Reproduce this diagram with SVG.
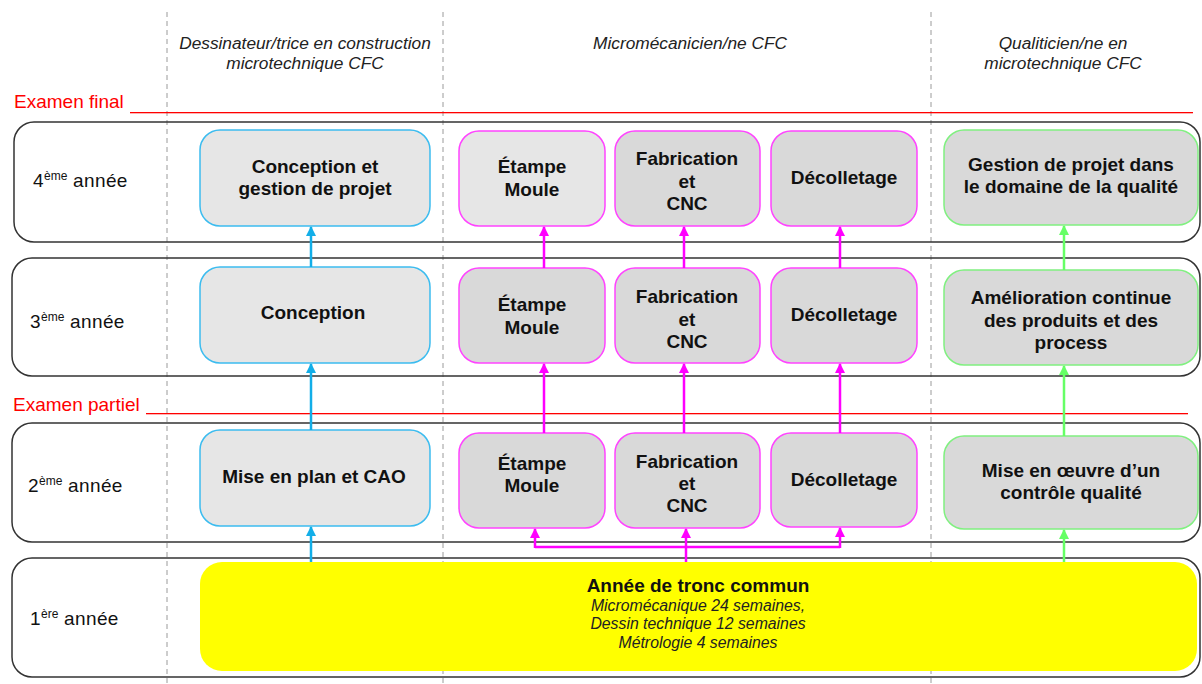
<svg xmlns="http://www.w3.org/2000/svg" width="1202" height="684" viewBox="0 0 1202 684">
<style>
text{font-family:"Liberation Sans",Arial,sans-serif;}
.hdr{font-size:17.3px;font-style:italic;fill:#222;text-anchor:middle;}
.exam{font-size:19px;fill:#ff0000;}
.redline{fill:#ff0000;stroke:none;}
.grid{stroke:#9a9a9a;stroke-width:1;stroke-dasharray:5,4;}
.band{fill:none;stroke:#333;stroke-width:1.5;}
.yr{font-size:19px;fill:#111;letter-spacing:0.4px;}
.sup{font-size:12px;letter-spacing:0;}
.lbl{font-size:19px;font-weight:bold;fill:#111;text-anchor:middle;}
.blue{fill:#e6e6e6;stroke:#3cbcef;stroke-width:1.5;}
.mag{fill:#d9d9d9;stroke:#ff44ff;stroke-width:1.5;}
.magl{fill:#e6e6e6;stroke:#ff44ff;stroke-width:1.5;}
.grn{fill:#d9d9d9;stroke:#80f080;stroke-width:1.5;}
.yel{fill:#ffff00;}
.it{font-size:15.8px;font-style:italic;fill:#222;text-anchor:middle;}
.cb{fill:none;stroke:#12aee8;stroke-width:2.5;marker-end:url(#ab);}
.cm{fill:none;stroke:#ff00ff;stroke-width:2.5;}
.cma{marker-end:url(#am);}
.cg{fill:none;stroke:#66ff66;stroke-width:2.5;marker-end:url(#ag);}
</style>
<defs>
<marker id="ab" markerUnits="userSpaceOnUse" markerWidth="10" markerHeight="10" viewBox="0 0 10 10" refX="9" refY="5" orient="auto"><path d="M0,0 L10,5 L0,10 z" fill="#12aee8"/></marker>
<marker id="am" markerUnits="userSpaceOnUse" markerWidth="10" markerHeight="10" viewBox="0 0 10 10" refX="9" refY="5" orient="auto"><path d="M0,0 L10,5 L0,10 z" fill="#ff00ff"/></marker>
<marker id="ag" markerUnits="userSpaceOnUse" markerWidth="10" markerHeight="10" viewBox="0 0 10 10" refX="9" refY="5" orient="auto"><path d="M0,0 L10,5 L0,10 z" fill="#66ff66"/></marker>
</defs>
<rect width="1202" height="684" fill="#ffffff"/>
<g id="grid">
<line class="grid" x1="167" y1="12" x2="167" y2="684"/>
<line class="grid" x1="443" y1="12" x2="443" y2="684"/>
<line class="grid" x1="931" y1="12" x2="931" y2="684"/>
</g>
<g id="headers">
<text class="hdr" x="305" y="49">Dessinateur/trice en construction</text>
<text class="hdr" x="305" y="69">microtechnique CFC</text>
<text class="hdr" x="690" y="49">Micromécanicien/ne CFC</text>
<text class="hdr" x="1063" y="49">Qualiticien/ne en</text>
<text class="hdr" x="1063" y="69">microtechnique CFC</text>
</g>
<g id="exams">
<text class="exam" x="14" y="108">Examen final</text>
<rect class="redline" x="130" y="112" width="1063" height="1.3"/>
<text class="exam" x="13" y="411">Examen partiel</text>
<rect class="redline" x="146" y="413" width="1042" height="1.3"/>
</g>
<g id="bands">
<rect class="band" x="14" y="122" width="1186" height="120" rx="20"/>
<rect class="band" x="12" y="258" width="1188" height="118" rx="20"/>
<rect class="band" x="12" y="423" width="1188" height="119" rx="20"/>
<rect class="band" x="12" y="558" width="1188" height="119" rx="20"/>
<text class="yr" x="33" y="187">4<tspan class="sup" dy="-7">ème</tspan><tspan dy="7"> année</tspan></text>
<text class="yr" x="30" y="328">3<tspan class="sup" dy="-7">ème</tspan><tspan dy="7"> année</tspan></text>
<text class="yr" x="28" y="492">2<tspan class="sup" dy="-7">ème</tspan><tspan dy="7"> année</tspan></text>
<text class="yr" x="30" y="625">1<tspan class="sup" dy="-7">ère</tspan><tspan dy="7"> année</tspan></text>
</g>
<g id="n-cgp"><rect class="blue" x="200" y="130" width="230" height="96" rx="20"/><text class="lbl" x="315" y="173">Conception et</text><text class="lbl" x="315" y="195">gestion de projet</text></g>
<g id="n-conc"><rect class="blue" x="200" y="267" width="230" height="96" rx="20"/><text class="lbl" x="313" y="319">Conception</text></g>
<g id="n-cao"><rect class="blue" x="200" y="430" width="230" height="96" rx="20"/><text class="lbl" x="314" y="483">Mise en plan et CAO</text></g>
<g id="n-em4"><rect class="magl" x="459" y="131" width="146" height="95" rx="20"/><text class="lbl" x="532" y="173">Étampe</text><text class="lbl" x="532" y="196">Moule</text></g>
<g id="n-fc4"><rect class="mag" x="615" y="131" width="145" height="95" rx="20"/><text class="lbl" x="687" y="165">Fabrication</text><text class="lbl" x="687" y="188">et</text><text class="lbl" x="687" y="210">CNC</text></g>
<g id="n-dc4"><rect class="mag" x="771" y="131" width="146" height="95" rx="20"/><text class="lbl" x="844" y="184">Décolletage</text></g>
<g id="n-em3"><rect class="mag" x="459" y="268" width="146" height="95" rx="20"/><text class="lbl" x="532" y="311">Étampe</text><text class="lbl" x="532" y="334">Moule</text></g>
<g id="n-fc3"><rect class="mag" x="615" y="268" width="145" height="95" rx="20"/><text class="lbl" x="687" y="303">Fabrication</text><text class="lbl" x="687" y="326">et</text><text class="lbl" x="687" y="348">CNC</text></g>
<g id="n-dc3"><rect class="mag" x="771" y="268" width="146" height="95" rx="20"/><text class="lbl" x="844" y="321">Décolletage</text></g>
<g id="n-em2"><rect class="mag" x="459" y="433" width="146" height="95" rx="20"/><text class="lbl" x="532" y="470">Étampe</text><text class="lbl" x="532" y="492">Moule</text></g>
<g id="n-fc2"><rect class="mag" x="615" y="433" width="145" height="95" rx="20"/><text class="lbl" x="687" y="468">Fabrication</text><text class="lbl" x="687" y="490">et</text><text class="lbl" x="687" y="512">CNC</text></g>
<g id="n-dc2"><rect class="mag" x="771" y="433" width="146" height="94" rx="20"/><text class="lbl" x="844" y="486">Décolletage</text></g>
<g id="n-gq4"><rect class="grn" x="944" y="130" width="254" height="95" rx="20"/><text class="lbl" x="1071" y="171">Gestion de projet dans</text><text class="lbl" x="1071" y="193">le domaine de la qualité</text></g>
<g id="n-gq3"><rect class="grn" x="944" y="270" width="254" height="95" rx="20"/><text class="lbl" x="1071" y="304">Amélioration continue</text><text class="lbl" x="1071" y="327">des produits et des</text><text class="lbl" x="1071" y="349">process</text></g>
<g id="n-gq2"><rect class="grn" x="944" y="436" width="254" height="93" rx="20"/><text class="lbl" x="1071" y="477">Mise en œuvre d’un</text><text class="lbl" x="1071" y="499">contrôle qualité</text></g>
<g id="n-tronc"><rect class="yel" x="200" y="562" width="997" height="109" rx="22"/><text class="lbl" x="698" y="592">Année de tronc commun</text><text class="it" x="698" y="611">Micromécanique 24 semaines,</text><text class="it" x="698" y="629">Dessin technique 12 semaines</text><text class="it" x="698" y="648">Métrologie 4 semaines</text></g>
<g id="connectors">
<line class="cb" x1="311" y1="562" x2="311" y2="527"/>
<line class="cb" x1="311" y1="430" x2="311" y2="364"/>
<line class="cb" x1="311" y1="267" x2="311" y2="227"/>
<line class="cm cma" x1="544" y1="268" x2="544" y2="227"/>
<line class="cm cma" x1="684" y1="268" x2="684" y2="227"/>
<line class="cm cma" x1="840" y1="268" x2="840" y2="227"/>
<line class="cm cma" x1="544" y1="433" x2="544" y2="364"/>
<line class="cm cma" x1="684" y1="433" x2="684" y2="364"/>
<line class="cm cma" x1="840" y1="433" x2="840" y2="364"/>
<line class="cm cma" x1="686" y1="562" x2="686" y2="529"/>
<polyline class="cm" points="535,547 840,547"/>
<line class="cm cma" x1="535" y1="548" x2="535" y2="529"/>
<line class="cm cma" x1="840" y1="548" x2="840" y2="528"/>
<line class="cg" x1="1064" y1="562" x2="1064" y2="530"/>
<line class="cg" x1="1064" y1="436" x2="1064" y2="366"/>
<line class="cg" x1="1064" y1="270" x2="1064" y2="226"/>
</g>
</svg>
